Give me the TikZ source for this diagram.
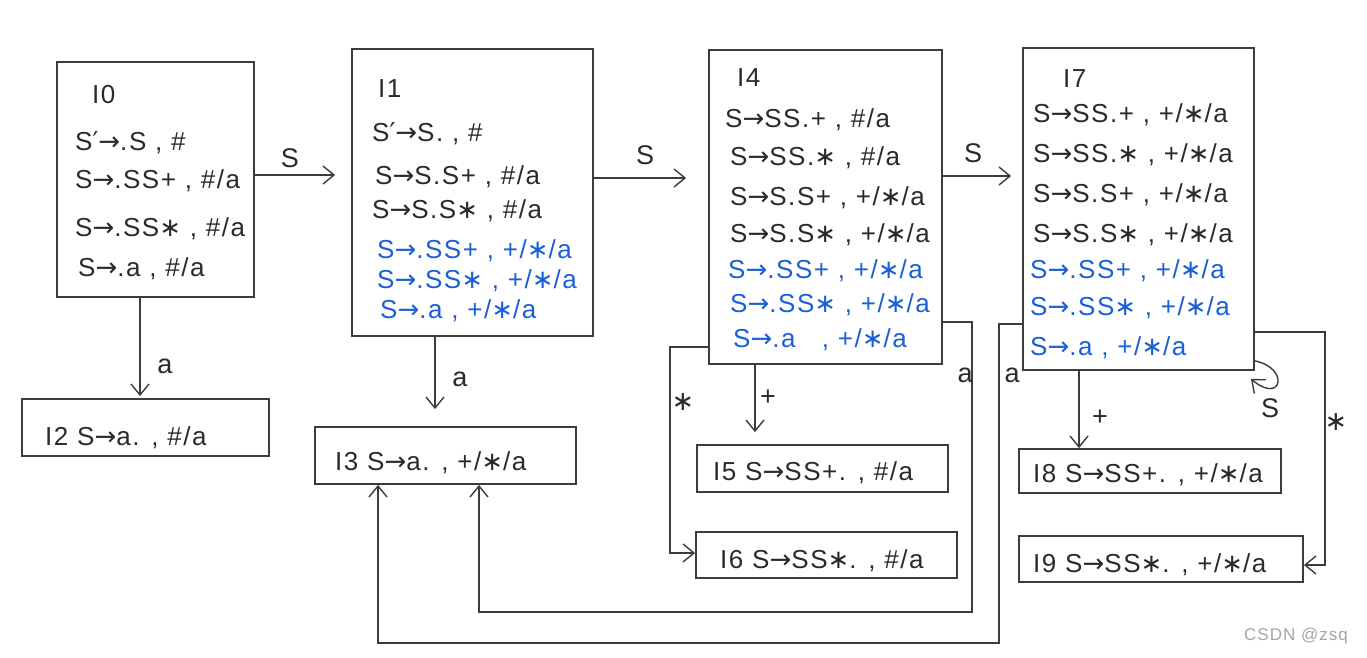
\documentclass[tikz,border=0pt]{standalone}
\usepackage{fontspec}
\setmainfont{Liberation Sans}[LetterSpace=6]
\newfontfamily\arrfont{DejaVu Sans}
\usetikzlibrary{arrows.meta}
\newcommand{\myarr}{{\arrfont →}}
\newcommand{\mypr}{{\arrfont ′}}
\newcommand{\myst}{{\arrfont ∗}}
\definecolor{ink}{HTML}{2A2A2A}
\definecolor{bink}{HTML}{1A5FD6}
\definecolor{lin}{HTML}{3C3C3C}
\tikzset{
 box/.style={draw=lin, line width=1.8pt, rectangle, inner sep=0pt},
 itm/.style={anchor=base west, inner sep=0pt, text=ink, font=\fontsize{26}{30}\selectfont},
 bitm/.style={itm, text=bink},
 conn/.style={draw=lin, line width=1.4pt},
 arr/.style={conn, -{Straight Barb[length=11pt,width=18pt,line width=1.4pt]}},
 lbl/.style={text=ink, font=\fontsize{27}{30}\selectfont, inner sep=0pt},
}
\begin{document}
\begin{tikzpicture}[x=1pt,y=-1pt]
\useasboundingbox (0,0) rectangle (1367,658);
% boxes
\node[box, minimum width=197, minimum height=235] (I0) at (155.5,179.5) {};
\node[box, minimum width=241, minimum height=287] (I1) at (472.5,192.5) {};
\node[box, minimum width=233, minimum height=314] (I4) at (825.5,207) {};
\node[box, minimum width=231, minimum height=322] (I7) at (1138.5,209) {};
\node[box, minimum width=247, minimum height=57] (I2) at (145.5,427.5) {};
\node[box, minimum width=261, minimum height=57] (I3) at (445.5,455.5) {};
\node[box, minimum width=251, minimum height=47] (I5) at (822.5,468.5) {};
\node[box, minimum width=261, minimum height=46] (I6) at (826.5,555) {};
\node[box, minimum width=262, minimum height=44] (I8) at (1150,471) {};
\node[box, minimum width=284, minimum height=46] (I9) at (1161,559) {};
% I0 text
\node[itm] (I0h) at (92,104) {I0};
\node[itm] (I0a) at (75,150) {S\mypr\myarr .S , \#};
\node[itm] (I0b) at (75,188) {S\myarr .SS+ , \#/a};
\node[itm] (I0c) at (75,236) {S\myarr .SS\myst\ , \#/a};
\node[itm] (I0d) at (78,276) {S\myarr .a , \#/a};
% I1 text
\node[itm] (I1h) at (378,98) {I1};
\node[itm] (I1a) at (372,142) {S\mypr\myarr S. , \#};
\node[itm] (I1b) at (375,184) {S\myarr S.S+ , \#/a};
\node[itm] (I1c) at (372,218) {S\myarr S.S\myst\ , \#/a};
\node[bitm] (I1d) at (377,258) {S\myarr .SS+ , +/\myst/a};
\node[bitm] (I1e) at (377,288) {S\myarr .SS\myst\ , +/\myst/a};
\node[bitm] (I1f) at (380,318) {S\myarr .a , +/\myst/a};
% I4 text
\node[itm] (I4h) at (737,87) {I4};
\node[itm] (I4a) at (725,128) {S\myarr SS.+ , \#/a};
\node[itm] (I4b) at (730,165) {S\myarr SS.\myst\ , \#/a};
\node[itm] (I4c) at (730,205) {S\myarr S.S+ , +/\myst/a};
\node[itm] (I4d) at (730,242) {S\myarr S.S\myst\ , +/\myst/a};
\node[bitm] (I4e) at (728,278) {S\myarr .SS+ , +/\myst/a};
\node[bitm] (I4f) at (730,312) {S\myarr .SS\myst\ , +/\myst/a};
\node[bitm] (I4g) at (733,347) {S\myarr .a \ \ , +/\myst/a};
% I7 text
\node[itm] (I7h) at (1063,88) {I7};
\node[itm] (I7a) at (1033,123) {S\myarr SS.+ , +/\myst/a};
\node[itm] (I7b) at (1033,162) {S\myarr SS.\myst\ , +/\myst/a};
\node[itm] (I7c) at (1033,202) {S\myarr S.S+ , +/\myst/a};
\node[itm] (I7d) at (1033,242) {S\myarr S.S\myst\ , +/\myst/a};
\node[bitm] (I7e) at (1030,278) {S\myarr .SS+ , +/\myst/a};
\node[bitm] (I7f) at (1030,315) {S\myarr .SS\myst\ , +/\myst/a};
\node[bitm] (I7g) at (1030,355) {S\myarr .a , +/\myst/a};
% single-line boxes
\node[itm] (t2) at (45,445) {I2 S\myarr a. , \#/a};
\node[itm] (t3) at (335,470) {I3 S\myarr a. , +/\myst/a};
\node[itm] (t5) at (713,480) {I5 S\myarr SS+. , \#/a};
\node[itm] (t6) at (720,568) {I6 S\myarr SS\myst. , \#/a};
\node[itm] (t8) at (1033,482) {I8 S\myarr SS+. , +/\myst/a};
\node[itm] (t9) at (1033,572) {I9 S\myarr SS\myst. , +/\myst/a};
% straight connectors
\draw[arr, shorten >=16pt] (I0.east |- 0,175) -- (I1.west |- 0,175);
\draw[arr, shorten >=22pt] (I1.east |- 0,178) -- (I4.west |- 0,178);
\draw[arr, shorten >=11pt] (I4.east |- 0,176) -- (I7.west |- 0,176);
\draw[arr, shorten >=2pt] (I0.south -| 140,0) -- (I2.north -| 140,0);
\draw[arr, shorten >=17pt] (I1.south -| 435,0) -- (I3.north -| 435,0);
\draw[arr, shorten >=12pt] (I4.south -| 755,0) -- (I5.north -| 755,0);
\draw[arr] (I7.south -| 1079,0) -- (I8.north -| 1079,0);
% bent connectors
\coordinate (c1) at (670,347);
\coordinate (c2) at (670,553);
\draw[arr] (I4.west |- c1) -- (c1) -- (c2) -- (I6.west |- c2);
\coordinate (d1) at (972,322);
\coordinate (d2) at (972,612);
\coordinate (d3) at (479,612);
\draw[arr] (I4.east |- d1) -- (d1) -- (d2) -- (d3) -- (d3 |- I3.south);
\coordinate (e1) at (999,324);
\coordinate (e2) at (999,643);
\coordinate (e3) at (378,643);
\draw[arr] (I7.west |- e1) -- (e1) -- (e2) -- (e3) -- (e3 |- I3.south);
\coordinate (f1) at (1325,332);
\coordinate (f2) at (1325,565);
\draw[arr] (I7.east |- f1) -- (f1) -- (f2) -- (I9.east |- f2);
% self loop
\draw[arr] ([yshift=10pt]I7.south east) .. controls (1290,368) and (1282,405) .. ([xshift=-4pt,yshift=-8pt]I7.south east);
% labels
\node[lbl] (lS1) at (290,158) {S};
\node[lbl] (lS2) at (645,155) {S};
\node[lbl] (lS3) at (973,153) {S};
\node[lbl] (la1) at (165,366) {a};
\node[lbl] (la2) at (460,379) {a};
\node[lbl] (lp1) at (768,398) {+};
\node[lbl] (lm1) at (683,402) {\myst};
\node[lbl] (la3) at (965,375) {a};
\node[lbl] (la4) at (1012,375) {a};
\node[lbl] (lp2) at (1100,418) {+};
\node[lbl] (lm2) at (1336,422) {\myst};
\node[lbl] (lS4) at (1270,408) {S};
\node[text=gray!70, font=\fontsize{17}{20}\selectfont, inner sep=0pt] (wm) at (1296,636) {CSDN @zsq};
\end{tikzpicture}
\end{document}
